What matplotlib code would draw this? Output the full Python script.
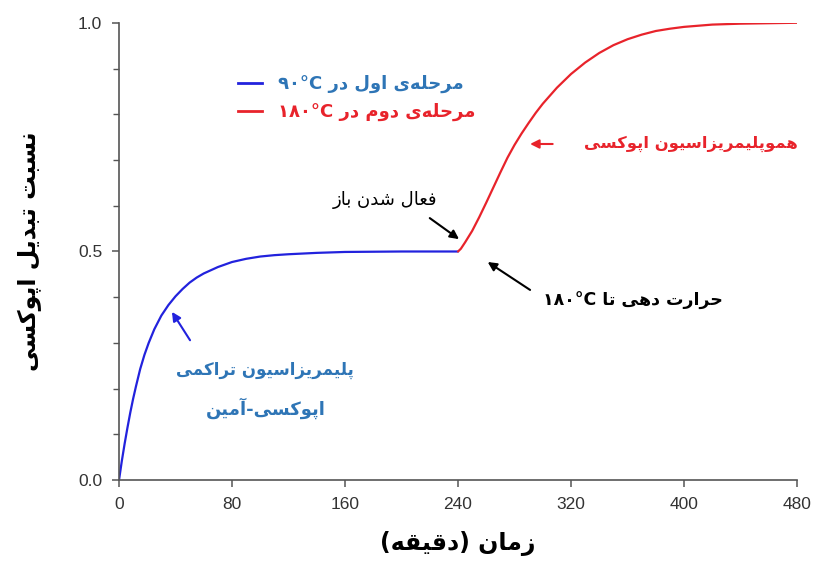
import re
import matplotlib
matplotlib.use('Agg')
import matplotlib.pyplot as plt
from matplotlib.lines import Line2D

# stage 1 (90 C): amine-epoxy step polymerisation
t_stage1 = [0, 2, 4, 6, 8, 10, 12, 15, 18, 21, 25, 30, 35, 40, 45, 50, 55, 60, 70, 80, 90,
            100, 110, 120, 140, 160, 200, 240]
x_stage1 = [0, 0.042, 0.08, 0.115, 0.148, 0.178, 0.205, 0.243, 0.274, 0.3, 0.33, 0.36,
            0.383, 0.402, 0.418, 0.432, 0.443, 0.452, 0.466, 0.477, 0.484, 0.489, 0.492, 0.494,
            0.497, 0.499, 0.5, 0.5]

# stage 2 (180 C): epoxy homopolymerisation
t_stage2 = [240, 242, 245, 250, 255, 260, 265, 270, 275, 280, 285, 290, 295, 300, 310, 320,
            330, 340, 350, 360, 370, 380, 390, 400, 420, 440, 460, 480]
x_stage2 = [0.5, 0.506, 0.52, 0.545, 0.575, 0.607, 0.64, 0.673, 0.705, 0.733, 0.758, 0.781,
            0.803, 0.823, 0.858, 0.888, 0.913, 0.934, 0.951, 0.964, 0.974, 0.982, 0.987, 0.991,
            0.996, 0.998, 0.999, 1.0]

x_ticks = [0, 80, 160, 240, 320, 400, 480]
y_ticks = [0.0, 0.5, 1.0]

legend_labels = ['مرحله\u200cی اول در ۹۰°C', 'مرحله\u200cی دوم در ۱۸۰°C']
x_label = 'زمان (دقیقه)'
y_label = 'نسبت تبدیل اپوکسی'

BLUE = '#2222dd'
RED = '#e8232b'
TXT_BLUE = '#2e75b6'

# matplotlib has no arabic shaping -> use presentation forms (iso, fin, ini, med)
FORMS = {
    'ا': ('\uFE8D', '\uFE8E', None, None),
    'آ': ('\uFE81', '\uFE82', None, None),
    'ب': ('\uFE8F', '\uFE90', '\uFE91', '\uFE92'),
    'پ': ('\uFB56', '\uFB57', '\uFB58', '\uFB59'),
    'ت': ('\uFE95', '\uFE96', '\uFE97', '\uFE98'),
    'ح': ('\uFEA1', '\uFEA2', '\uFEA3', '\uFEA4'),
    'د': ('\uFEA9', '\uFEAA', None, None),
    'ر': ('\uFEAD', '\uFEAE', None, None),
    'ز': ('\uFEAF', '\uFEB0', None, None),
    'س': ('\uFEB1', '\uFEB2', '\uFEB3', '\uFEB4'),
    'ش': ('\uFEB5', '\uFEB6', '\uFEB7', '\uFEB8'),
    'ع': ('\uFEC9', '\uFECA', '\uFECB', '\uFECC'),
    'ف': ('\uFED1', '\uFED2', '\uFED3', '\uFED4'),
    'ق': ('\uFED5', '\uFED6', '\uFED7', '\uFED8'),
    'ک': ('\uFB8E', '\uFB8F', '\uFB90', '\uFB91'),
    'ل': ('\uFEDD', '\uFEDE', '\uFEDF', '\uFEE0'),
    'م': ('\uFEE1', '\uFEE2', '\uFEE3', '\uFEE4'),
    'ن': ('\uFEE5', '\uFEE6', '\uFEE7', '\uFEE8'),
    'ه': ('\uFEE9', '\uFEEA', '\uFEEB', '\uFEEC'),
    'و': ('\uFEED', '\uFEEE', None, None),
    'ی': ('\uFBFC', '\uFBFD', '\uFBFE', '\uFBFF'),
}


def fa(text):
    out = []
    for i, c in enumerate(text):
        if c not in FORMS:
            if c != '\u200c':
                out.append(c)
            continue
        iso, fin, ini, med = FORMS[c]
        prev = text[i - 1] if i > 0 else ''
        nxt = text[i + 1] if i + 1 < len(text) else ''
        jp = prev in FORMS and FORMS[prev][2] is not None
        jn = ini is not None and nxt in FORMS
        if jp and jn:
            out.append(med)
        elif jp:
            out.append(fin)
        elif jn:
            out.append(ini)
        else:
            out.append(iso)
    s = ''.join(out)[::-1]
    s = s.translate(str.maketrans('()', ')('))
    s = re.sub(r'[0-9\u06F0-\u06F9°A-Za-z.]+', lambda m: m.group(0)[::-1], s)
    return s


FA = 'DejaVu Sans'

fig = plt.figure(figsize=(8.15, 5.69), dpi=100)
ax = fig.add_axes([0.146, 0.156, 0.832, 0.804])

ax.plot(t_stage1, x_stage1, color=BLUE, lw=1.6, solid_capstyle='round')
ax.plot(t_stage2, x_stage2, color=RED, lw=1.6, solid_capstyle='round')

ax.set_xlim(0, 480)
ax.set_ylim(0, 1)
ax.set_xticks(x_ticks)
ax.set_yticks(y_ticks)
ax.set_yticks([0.1, 0.2, 0.3, 0.4, 0.6, 0.7, 0.8, 0.9], minor=True)
ax.set_yticklabels([f'{v:.1f}' for v in y_ticks])

for side in ['top', 'right']:
    ax.spines[side].set_visible(False)
for side in ['left', 'bottom']:
    ax.spines[side].set_color('#555555')
    ax.spines[side].set_linewidth(1.2)

ax.tick_params(which='major', length=5, width=1.1, color='#555555', labelsize=12.5,
               labelcolor='#333333')
ax.tick_params(which='minor', length=4, width=1.0, color='#555555')
ax.tick_params(axis='y', pad=7)
ax.tick_params(axis='x', pad=7)
for lab in ax.get_xticklabels() + ax.get_yticklabels():
    lab.set_family('Liberation Sans')

ax.set_xlabel(fa(x_label), fontsize=17, fontweight='bold', family=FA, labelpad=14)
ax.set_ylabel(fa(y_label), fontsize=17, fontweight='bold', family=FA, labelpad=26)

handles = [Line2D([], [], color=BLUE, lw=2), Line2D([], [], color=RED, lw=2)]
ax.legend(handles, [fa(s) for s in legend_labels], loc='center left',
          bbox_to_anchor=(0.176, 0.835), frameon=False, handlelength=1.3,
          handletextpad=0.9, labelspacing=0.55, borderpad=0, borderaxespad=0,
          labelcolor=[TXT_BLUE, RED], prop={'family': FA, 'weight': 'bold', 'size': 13})

arrow_k = dict(arrowstyle='-|>', color='black', lw=1.5, mutation_scale=13, shrinkA=0, shrinkB=0)

# base activation
ax.annotate('', xy=(240.7, 0.527), xytext=(220, 0.573), arrowprops=arrow_k)
ax.text(188, 0.613, fa('فعال شدن باز'), ha='center', va='center', fontsize=13, family=FA)

# heating to 180 C
ax.annotate('', xy=(261, 0.477), xytext=(291, 0.416), arrowprops=arrow_k)
ax.text(364, 0.392, fa('حرارت دهی تا ۱۸۰°C'), ha='center', va='center', fontsize=12.5,
        fontweight='bold', family=FA)

# homopolymerisation
ax.annotate('', xy=(291, 0.735), xytext=(307, 0.735),
            arrowprops=dict(arrow_k, color=RED))
ax.text(405, 0.735, fa('هموپلیمریزاسیون اپوکسی'), ha='center', va='center', fontsize=11.8,
        fontweight='bold', family=FA, color=RED)

# step polymerisation
ax.annotate('', xy=(37.5, 0.368), xytext=(50.3, 0.306),
            arrowprops=dict(arrow_k, color=BLUE))
ax.text(103, 0.241, fa('پلیمریزاسیون تراکمی'), ha='center', va='center', fontsize=12,
        fontweight='bold', family=FA, color=TXT_BLUE)
ax.text(104, 0.158, fa('اپوکسی-آمین'), ha='center', va='center', fontsize=13,
        fontweight='bold', family=FA, color=TXT_BLUE)

fig.savefig('out.png', dpi=100)
